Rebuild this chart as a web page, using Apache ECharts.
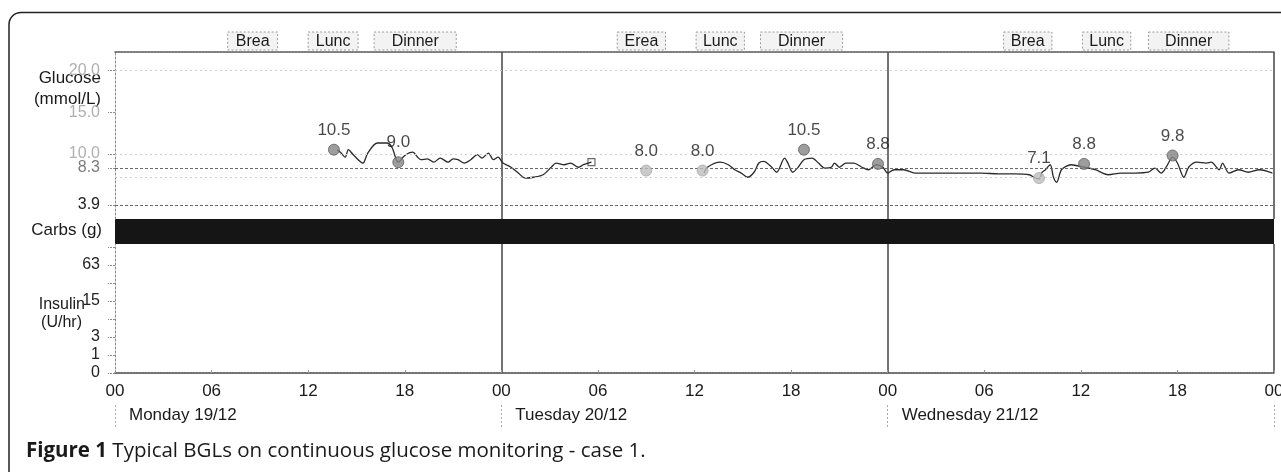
<!DOCTYPE html>
<html>
<head>
<meta charset="utf-8">
<title>Typical BGLs on continuous glucose monitoring - case 1</title>
<script src="https://cdn.jsdelivr.net/npm/echarts@6/dist/echarts.min.js"></script>
<style>
  html, body { margin: 0; padding: 0; background: #fff; }
  #chart { width: 1281px; height: 472px; }
</style>
</head>
<body>
<div id="chart"></div>
<script>
// sensor trace, hours counted from Monday 00:00
var trace1Hours = [13.8, 14.0, 14.3, 14.5, 14.8, 15.4, 15.7, 16.3, 16.9, 17.2, 17.6, 18.0, 18.5, 18.8, 19.0, 19.4, 19.8, 20.2, 20.7, 21.0,
  21.3, 21.7, 22.1, 22.5, 22.8, 23.2, 23.5, 23.8, 24.1, 24.6, 25.0, 25.5, 26.0, 26.6, 27.1, 27.4, 27.9, 28.3, 28.8, 29.1, 29.6];
var trace1Values = [10.5, 10.2, 9.6, 10.5, 9.9, 8.9, 10.1, 11.3, 11.3, 10.8, 9.0, 9.8, 10.2, 9.6, 9.3, 9.4, 9.0, 9.5, 9.0, 9.4,
  9.3, 8.9, 9.3, 9.9, 9.5, 10.1, 9.3, 9.6, 8.9, 8.4, 7.8, 7.1, 7.2, 7.5, 8.4, 8.9, 8.7, 8.9, 8.4, 8.7, 9.0];
var trace2Hours = [36.6, 36.8, 37.6, 38.1, 38.5, 38.9, 39.3, 39.7, 40.0, 40.3, 40.8, 41.1, 41.6, 41.8, 42.1, 42.4, 42.8, 43.3, 43.7, 44.1,
  44.5, 44.7, 45.0, 45.4, 45.9, 46.4, 46.8, 47.3, 47.7, 48.0, 48.4, 49.0, 49.7, 50.7, 51.8, 52.8, 53.8, 54.9, 55.9, 56.8,
  57.1, 57.4, 57.6, 57.8, 58.1, 58.3, 58.5, 58.8, 59.4, 60.2, 60.9, 61.7, 62.5, 63.4, 64.2, 64.6, 65.0, 65.3, 65.7, 66.0,
  66.4, 66.7, 67.2, 67.8, 68.1, 68.6, 68.8, 69.2, 69.8, 70.4, 71.1, 71.9];
var trace2Values = [7.7, 8.4, 9.0, 8.7, 8.1, 7.7, 7.2, 7.8, 8.9, 9.1, 8.4, 7.8, 9.5, 8.9, 7.8, 8.3, 9.3, 9.5, 8.9, 8.3,
  8.4, 8.9, 8.4, 8.9, 8.9, 8.4, 8.1, 8.7, 8.4, 7.7, 8.1, 8.1, 7.7, 7.7, 7.7, 7.7, 7.7, 7.6, 7.6, 7.5,
  7.2, 7.0, 7.8, 8.1, 8.7, 7.2, 6.6, 8.1, 8.7, 8.4, 8.1, 7.5, 7.7, 7.7, 7.8, 8.3, 7.7, 8.4, 9.6, 8.9,
  7.2, 8.4, 9.0, 8.9, 9.0, 8.1, 8.9, 7.7, 8.1, 7.8, 8.1, 7.7];

// meter readings
var bgHours = [13.6, 17.6, 33.0, 36.5, 42.8, 47.4, 57.4, 60.2, 65.7];
var bgValues = [10.5, 9.0, 8.0, 8.0, 10.5, 8.8, 7.1, 8.8, 9.8];
var bgKind = ['meter', 'meter', 'cal', 'cal', 'meter', 'meter', 'cal', 'meter', 'meter'];

// meal windows
var mealLabels = ['Brea', 'Lunc', 'Dinner', 'Erea', 'Lunc', 'Dinner', 'Brea', 'Lunc', 'Dinner'];
var mealStart = [7.0, 12.0, 16.1, 31.2, 36.1, 40.1, 55.2, 60.1, 64.2];
var mealEnd = [10.1, 15.1, 21.2, 34.2, 39.1, 45.2, 58.2, 63.1, 69.2];

var dayLabels = ['Monday 19/12', 'Tuesday 20/12', 'Wednesday 21/12'];
var glucoseTicks = [20.0, 15.0, 10.0, 8.3, 3.9, 2.2];
var glucoseTargetLines = [8.3, 3.9];
var glucoseGuideLines = [20.0, 10.0, 7.2];
var insulinTickPos = [0, 1, 2, 4, 6];
var insulinTickLabels = ['0', '1', '3', '15', '63'];

var FONT = 'Liberation Sans';

function zip(a, b) {
  return a.map(function (v, i) { return [v, b[i]]; });
}

var chart = echarts.init(document.getElementById('chart'));

var refLines = glucoseGuideLines.map(function (v) {
  return { yAxis: v, lineStyle: { color: '#cfcfcf', type: [2, 3], width: 1 } };
}).concat(glucoseTargetLines.map(function (v) {
  return { yAxis: v, lineStyle: { color: '#6a6a6a', type: [3, 2], width: 1.2 } };
}));

var option = {
  animation: false,
  backgroundColor: '#fff',
  grid: [
    { left: 115, right: 7, top: 52, height: 167, outerBoundsMode: 'none' },
    { left: 115, right: 7, top: 219, height: 25, show: true, backgroundColor: '#151515', borderWidth: 0, outerBoundsMode: 'none' },
    { left: 115, right: 7, top: 244, height: 129, outerBoundsMode: 'none' },
    { left: 115, right: 7, top: 32, height: 18, outerBoundsMode: 'none' }
  ],
  xAxis: [
    {
      gridIndex: 0, type: 'value', min: 0, max: 72, interval: 24, position: 'top',
      axisLine: { show: true, lineStyle: { color: '#555', type: [2, 1], width: 1.5 } },
      axisTick: { show: false }, axisLabel: { show: false },
      splitLine: { show: true, showMinLine: false, lineStyle: { color: '#444', width: 1.5 } }
    },
    { gridIndex: 1, type: 'value', min: 0, max: 72, show: false },
    {
      gridIndex: 2, type: 'value', min: 0, max: 72, interval: 6, position: 'bottom',
      axisLine: { show: true, lineStyle: { color: '#444', type: [2, 1], width: 1.5 } },
      axisTick: { show: true, inside: true, length: 3, lineStyle: { color: '#999' } },
      axisLabel: {
        fontFamily: FONT, fontSize: 17, color: '#1a1a1a', margin: 10,
        formatter: function (v) { return String(v % 24).padStart(2, '0'); }
      },
      splitLine: { show: false }
    },
    {
      gridIndex: 2, type: 'value', min: 0, max: 72, interval: 24, position: 'bottom', offset: 32,
      axisLine: { show: false },
      axisTick: { show: true, length: 22, lineStyle: { color: '#aaa', type: [2, 2] } },
      axisLabel: {
        fontFamily: FONT, fontSize: 17, color: '#1a1a1a', margin: 2, align: 'left', padding: [0, 0, 0, 14],
        formatter: function (v) { return dayLabels[v / 24] || ''; }
      },
      splitLine: { show: true, showMinLine: false, lineStyle: { color: '#444', width: 1.5 } }
    },
    { gridIndex: 3, type: 'value', min: 0, max: 72, show: false }
  ],
  yAxis: [
    {
      gridIndex: 0, type: 'value', min: 2.2, max: 22.2,
      axisLine: { show: true, lineStyle: { color: '#8a8a8a', type: [2, 2] } },
      axisTick: { show: true, customValues: glucoseTicks, length: 7, lineStyle: { color: '#8a8a8a', type: [2, 1] } },
      axisLabel: {
        customValues: glucoseTicks, margin: 15, fontFamily: FONT, fontSize: 16,
        formatter: function (v) {
          var s = v.toFixed(1);
          if (v >= 10) return '{light|' + s + '}';
          if (v > 5) return '{mid|' + s + '}';
          return '{dark|' + s + '}';
        },
        rich: {
          light: { color: '#b0b0b0', fontFamily: FONT, fontSize: 16 },
          mid: { color: '#7c7c7c', fontFamily: FONT, fontSize: 16 },
          dark: { color: '#222', fontFamily: FONT, fontSize: 16 }
        }
      },
      splitLine: { show: false }
    },
    { gridIndex: 1, type: 'value', min: 0, max: 1, show: false },
    {
      gridIndex: 2, type: 'value', min: 0, max: 7.17,
      axisLine: { show: true, lineStyle: { color: '#8a8a8a', type: [2, 2] } },
      axisTick: { show: true, customValues: [0, 1, 2, 3, 4, 5, 6, 7], length: 7, lineStyle: { color: '#8a8a8a', type: [2, 1] } },
      axisLabel: {
        customValues: insulinTickPos, margin: 15, fontFamily: FONT, fontSize: 16, color: '#222',
        formatter: function (v) { return insulinTickLabels[insulinTickPos.indexOf(v)]; }
      },
      splitLine: { show: false }
    },
    { gridIndex: 3, type: 'value', min: 0, max: 1, show: false }
  ],
  series: [
    {
      name: 'Sensor', type: 'line', xAxisIndex: 0, yAxisIndex: 0,
      data: zip(trace1Hours, trace1Values),
      showSymbol: false, smooth: 0.3,
      lineStyle: { color: '#2a2a2a', width: 1.3 },
      markLine: { silent: true, symbol: 'none', label: { show: false }, data: refLines }
    },
    {
      name: 'Sensor 2', type: 'line', xAxisIndex: 0, yAxisIndex: 0,
      data: zip(trace2Hours, trace2Values),
      showSymbol: false, smooth: 0.3,
      lineStyle: { color: '#2a2a2a', width: 1.3 }
    },
    {
      name: 'End', type: 'scatter', xAxisIndex: 0, yAxisIndex: 0,
      data: [[trace1Hours[trace1Hours.length - 1], trace1Values[trace1Values.length - 1]]],
      symbol: 'rect', symbolSize: 7,
      itemStyle: { color: '#fff', borderColor: '#444', borderWidth: 1.2 }
    },
    {
      name: 'BGL', type: 'scatter', xAxisIndex: 0, yAxisIndex: 0,
      data: zip(bgHours, bgValues).map(function (d, i) {
        var cal = bgKind[i] === 'cal';
        return {
          value: d,
          itemStyle: { color: cal ? '#bdbdbd' : '#858585', borderColor: cal ? '#a8a8a8' : '#5e5e5e', borderWidth: 1 }
        };
      }),
      symbolSize: 11,
      label: {
        show: true, position: 'top', distance: 5,
        fontFamily: FONT, fontSize: 17, color: '#1a1a1a',
        formatter: function (p) { return p.value[1].toFixed(1); }
      },
      z: 5
    },
    {
      name: 'Meals', type: 'custom', xAxisIndex: 4, yAxisIndex: 3,
      data: mealLabels.map(function (m, i) { return [mealStart[i], mealEnd[i], m]; }),
      renderItem: function (params, api) {
        var p0 = api.coord([api.value(0), 1]);
        var p1 = api.coord([api.value(1), 0]);
        var w = p1[0] - p0[0], h = p1[1] - p0[1];
        return {
          type: 'group',
          children: [
            {
              type: 'rect',
              shape: { x: p0[0], y: p0[1], width: w, height: h },
              style: { fill: '#f3f3f3', stroke: '#9a9a9a', lineWidth: 1, lineDash: [2, 2] }
            },
            {
              type: 'text',
              x: p0[0] + w / 2, y: p0[1] + h / 2 + 1,
              style: {
                text: mealLabels[params.dataIndex], align: 'center', verticalAlign: 'middle',
                fontFamily: FONT, fontSize: 16, fill: '#1a1a1a'
              }
            }
          ]
        };
      }
    }
  ],
  graphic: [
    {
      type: 'rect', silent: true,
      shape: { x: 9, y: 12.5, width: 1300, height: 480, r: 12 },
      style: { fill: 'none', stroke: '#222', lineWidth: 1.5 }
    },
    { type: 'text', x: 101, y: 78, style: { text: 'Glucose', align: 'right', verticalAlign: 'middle', fontFamily: FONT, fontSize: 17, fill: '#1a1a1a' } },
    { type: 'text', x: 101, y: 99, style: { text: '(mmol/L)', align: 'right', verticalAlign: 'middle', fontFamily: FONT, fontSize: 17, fill: '#1a1a1a' } },
    { type: 'text', x: 102, y: 230, style: { text: 'Carbs (g)', align: 'right', verticalAlign: 'middle', fontFamily: FONT, fontSize: 17, fill: '#1a1a1a' } },
    { type: 'text', x: 85, y: 305, style: { text: 'Insulin', align: 'right', verticalAlign: 'middle', fontFamily: FONT, fontSize: 16, fill: '#1a1a1a' } },
    { type: 'text', x: 82, y: 323, style: { text: '(U/hr)', align: 'right', verticalAlign: 'middle', fontFamily: FONT, fontSize: 16, fill: '#1a1a1a' } },
    {
      type: 'text', x: 26, y: 451,
      style: {
        text: '{b|Figure 1} Typical BGLs on continuous glucose monitoring - case 1.',
        verticalAlign: 'middle', fontFamily: 'Open Sans', fontSize: 20.5, fill: '#1a1a1a',
        rich: { b: { fontWeight: 'bold', fontFamily: 'Open Sans', fontSize: 20.5, fill: '#1a1a1a' } }
      }
    }
  ]
};

chart.setOption(option);
</script>
</body>
</html>
